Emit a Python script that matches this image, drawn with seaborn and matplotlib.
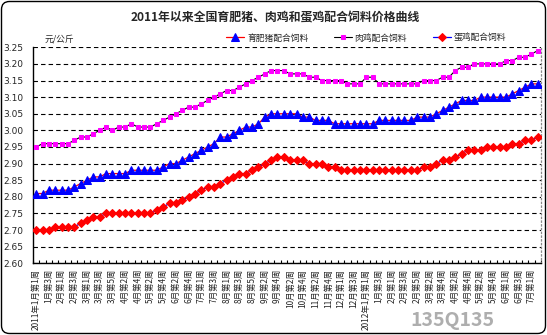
import matplotlib
matplotlib.use("Agg")
import matplotlib.pyplot as plt
import seaborn as sns
import pandas as pd
import numpy as np
from matplotlib.patches import FancyBboxPatch
from matplotlib.transforms import IdentityTransform

# ---------------- data ----------------
pig = [2.81, 2.81, 2.82, 2.82, 2.82, 2.82, 2.83, 2.84, 2.85, 2.86,
       2.86, 2.87, 2.87, 2.87, 2.87, 2.88, 2.88, 2.88, 2.88, 2.88,
       2.89, 2.90, 2.90, 2.91, 2.92, 2.93, 2.94, 2.95, 2.96, 2.98,
       2.98, 2.99, 3.00, 3.01, 3.01, 3.02, 3.04, 3.05, 3.05, 3.05,
       3.05, 3.05, 3.04, 3.04, 3.03, 3.03, 3.03, 3.02, 3.02, 3.02,
       3.02, 3.02, 3.02, 3.02, 3.03, 3.03, 3.03, 3.03, 3.03, 3.03,
       3.04, 3.04, 3.04, 3.05, 3.06, 3.07, 3.08, 3.09, 3.09, 3.09,
       3.10, 3.10, 3.10, 3.10, 3.10, 3.11, 3.12, 3.13, 3.14, 3.14]
broiler = [2.95, 2.96, 2.96, 2.96, 2.96, 2.96, 2.97, 2.98, 2.98, 2.99,
           3.00, 3.01, 3.00, 3.01, 3.01, 3.02, 3.01, 3.01, 3.01, 3.02,
           3.03, 3.04, 3.05, 3.06, 3.07, 3.07, 3.08, 3.09, 3.10, 3.11,
           3.12, 3.12, 3.13, 3.14, 3.15, 3.16, 3.17, 3.18, 3.18, 3.18,
           3.17, 3.17, 3.17, 3.16, 3.16, 3.15, 3.15, 3.15, 3.15, 3.14,
           3.14, 3.14, 3.16, 3.16, 3.14, 3.14, 3.14, 3.14, 3.14, 3.14,
           3.14, 3.15, 3.15, 3.15, 3.16, 3.16, 3.18, 3.19, 3.19, 3.20,
           3.20, 3.20, 3.20, 3.20, 3.21, 3.21, 3.22, 3.22, 3.23, 3.24]
layer = [2.70, 2.70, 2.70, 2.71, 2.71, 2.71, 2.71, 2.72, 2.73, 2.74,
         2.74, 2.75, 2.75, 2.75, 2.75, 2.75, 2.75, 2.75, 2.75, 2.76,
         2.77, 2.78, 2.78, 2.79, 2.80, 2.81, 2.82, 2.83, 2.83, 2.84,
         2.85, 2.86, 2.87, 2.87, 2.88, 2.89, 2.90, 2.91, 2.92, 2.92,
         2.91, 2.91, 2.91, 2.90, 2.90, 2.90, 2.89, 2.89, 2.88, 2.88,
         2.88, 2.88, 2.88, 2.88, 2.88, 2.88, 2.88, 2.88, 2.88, 2.88,
         2.88, 2.89, 2.89, 2.90, 2.91, 2.91, 2.92, 2.93, 2.94, 2.94,
         2.94, 2.95, 2.95, 2.95, 2.95, 2.96, 2.96, 2.97, 2.97, 2.98]
tick_labels = ["2011年1月第1周", "1月第3周", "2月第1周", "2月第3周", "3月第1周",
               "3月第3周", "3月第5周", "4月第2周", "4月第4周", "5月第2周",
               "5月第4周", "6月第2周", "6月第4周", "7月第1周", "7月第3周",
               "8月第1周", "8月第3周", "8月第5周", "9月第2周", "9月第4周",
               "10月第2周", "10月第4周", "11月第2周", "11月第4周", "12月第1周",
               "12月第3周", "2012年1月第1周", "1月第3周", "2月第1周", "2月第3周",
               "2月第5周", "3月第2周", "3月第4周", "4月第2周", "4月第4周",
               "5月第2周", "5月第4周", "6月第1周", "6月第3周", "7月第1周"]
series_names = ["育肥猪配合饲料", "肉鸡配合饲料", "蛋鸡配合饲料"]
title = "2011年以来全国育肥猪、肉鸡和蛋鸡配合饲料价格曲线"
unit = "元/公斤"
yticks = [2.60, 2.65, 2.70, 2.75, 2.80, 2.85, 2.90, 2.95, 3.00, 3.05, 3.10, 3.15, 3.20, 3.25]

week = np.arange(len(pig))
df = pd.DataFrame({"week": week, "pig": pig, "broiler": broiler, "layer": layer})

# ---------------- style ----------------
sns.set_theme(style="white")
plt.rcParams["font.family"] = ["Noto Sans CJK SC", "DejaVu Sans"]

W, H = 547, 335
fig = plt.figure(figsize=(W / 100, H / 100), dpi=100)
fig.patch.set_facecolor("white")
ax = fig.add_axes([33 / W, 1 - 263.3 / H, 508 / W, (263.3 - 47.3) / H])
ax.set_facecolor("white")

sns.lineplot(data=df, x="week", y="pig", ax=ax, color="red", linewidth=0.9,
             marker="^", markersize=5.4, markerfacecolor="blue", markeredgecolor="blue",
             label=series_names[0], zorder=3)
sns.lineplot(data=df, x="week", y="broiler", ax=ax, color="black", linewidth=0.8,
             marker="s", markersize=3.0, markerfacecolor="#ff00ff", markeredgecolor="#ff00ff",
             label=series_names[1], zorder=3)
sns.lineplot(data=df, x="week", y="layer", ax=ax, color="blue", linewidth=0.9,
             marker="D", markersize=4.4, markerfacecolor="red", markeredgecolor="red",
             label=series_names[2], zorder=3)

ax.set_xlim(-0.5, len(pig) - 0.5)
ax.set_ylim(2.60, 3.25)
ax.set_yticks(yticks)
ax.set_yticklabels([f"{v:.2f}" for v in yticks], family="DejaVu Sans", fontsize=6.5)
ax.tick_params(axis="y", length=0, pad=7)
ax.yaxis.grid(True, color="black", linewidth=0.8, linestyle=(0, (4, 2.8)))
ax.xaxis.grid(False)

ax.set_xticks(week[::2])
ax.set_xticklabels(tick_labels, rotation=90, fontsize=6, va="top", ha="center")
ax.set_xticks(np.arange(-0.5, len(pig), 1), minor=True)
ax.tick_params(axis="x", which="major", length=0, pad=4)
ax.tick_params(axis="x", which="minor", direction="in", length=2.5, width=0.8, color="black", bottom=True)
ax.set_xlabel("")
ax.set_ylabel("")

for s in ["left", "bottom"]:
    ax.spines[s].set_color("black")
    ax.spines[s].set_linewidth(1.0)
ax.spines["top"].set_visible(False)
ax.spines["right"].set_color("#888888")
ax.spines["right"].set_linestyle((0, (1, 2)))
ax.spines["right"].set_linewidth(0.9)

# legend
leg = ax.legend(loc="center left", bbox_to_anchor=(226 / W, 1 - 38 / H),
                bbox_transform=fig.transFigure, ncol=3, frameon=False,
                fontsize=6.3, handlelength=2.1, handletextpad=0.3, columnspacing=2.9,
                borderpad=0, borderaxespad=0)

# texts
fig.text(275 / W, 1 - 18 / H, title, ha="center", va="center", fontsize=8.6, fontweight="bold")
fig.text(45 / W, 1 - 39 / H, unit, ha="left", va="center", fontsize=6.3, style="italic")
fig.text(410 / W, 1 - 321 / H, "135Q135", ha="left", va="center", fontsize=14,
         fontweight="bold", color="#9a9a9a", alpha=0.8)

# rounded outer frame
frame = FancyBboxPatch((1.5, 1.5), W - 3, H - 3, boxstyle="round,pad=0,rounding_size=8",
                       transform=IdentityTransform(), fill=False, ec="black", lw=1.0)
fig.add_artist(frame)

fig.savefig("out.png", dpi=100, facecolor="white")
